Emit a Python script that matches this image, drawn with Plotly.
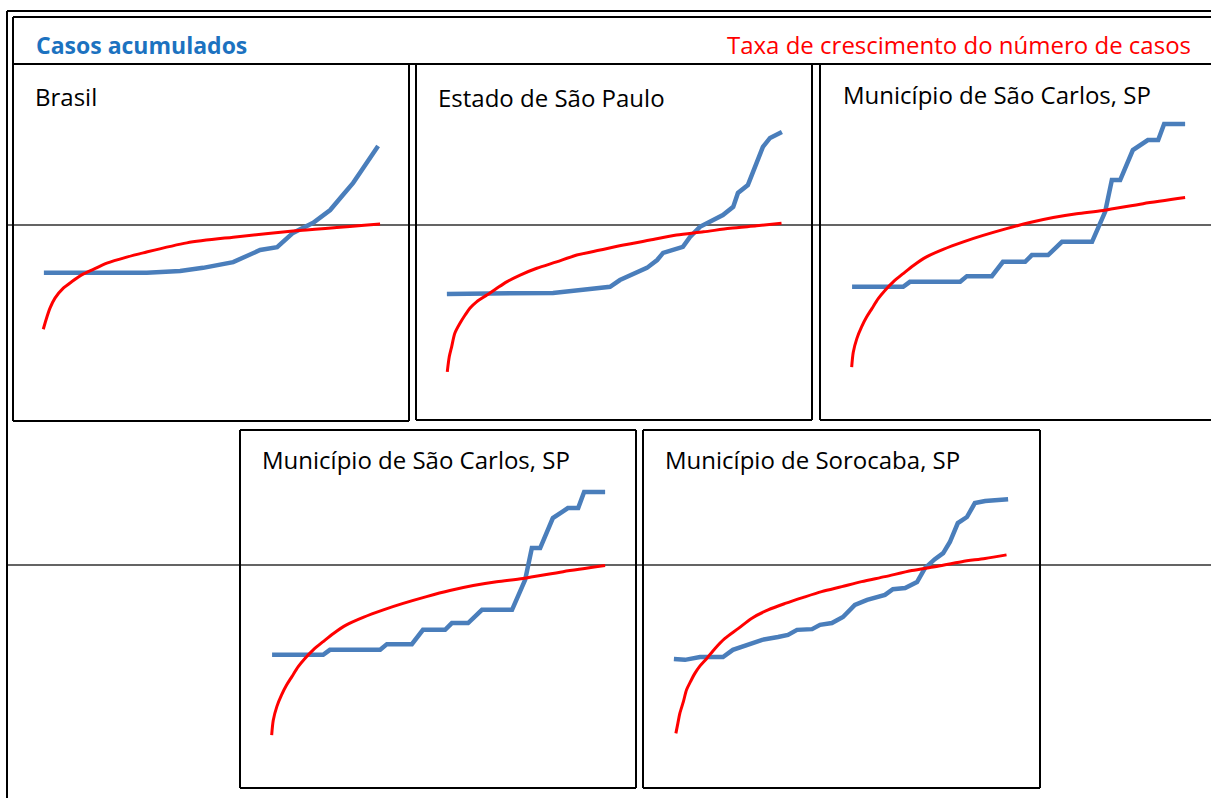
import plotly.graph_objects as go

W, H = 1211, 798

# ---------------- data (arbitrary units: x = time, y = level) ----------------
brasil_casos_x = [7.8, 33.8, 42.2, 48.0, 55.6, 62.4, 66.7, 70.7, 75.8, 80.1, 83.3, 85.9, 88.1, 90.2, 92.2]
brasil_casos_y = [41.5, 41.5, 42.0, 42.9, 44.5, 47.9, 48.7, 52.7, 55.5, 59.1, 63.3, 66.7, 70.3, 73.7, 77.0]
brasil_taxa_x = [7.65, 8.33, 9.34, 10.6, 12.7, 14.8, 17.8, 21.1, 23.7, 28.7, 32.9, 43.9, 55.6, 70.7, 92.7]
brasil_taxa_y = [25.7, 28.3, 31.6, 34.4, 37.2, 39.0, 41.2, 42.9, 44.2, 45.9, 47.1, 49.9, 51.5, 53.2, 55.2]

sp_casos_x = [7.8, 28.8, 34.6, 43.9, 49.0, 51.5, 55.8, 58.3, 60.9, 62.4, 67.4, 69.2, 71.7, 74.2,
              77.5, 80.1, 81.3, 83.8, 86.1, 87.6, 89.4, 92.4]
sp_casos_y = [35.3, 35.3, 35.6, 36.7, 37.3, 39.2, 41.5, 42.6, 44.8, 46.8, 48.5, 51.3, 54.1, 55.5,
              57.4, 59.7, 63.6, 65.8, 72.8, 76.5, 79.0, 80.7]
sp_taxa_x = [7.9, 8.4, 9.0, 9.8, 11.1, 12.4, 13.6, 15.3, 17.9, 20.4, 22.9, 26.3, 30.5, 35.5, 40.6,
             46.5, 52.4, 59.1, 65.8, 72.6, 79.3, 86.0, 92.3]
sp_taxa_y = [13.5, 17.7, 20.5, 24.3, 27.1, 29.4, 31.3, 33.1, 35.0, 36.9, 38.7, 40.6, 42.5, 44.3, 46.2,
             47.6, 49.0, 50.4, 51.8, 52.7, 53.7, 54.4, 55.1]

scarlos_casos_x = [8.1, 21.0, 22.7, 35.4, 37.1, 43.4, 46.2, 51.8, 53.5, 57.6, 61.1, 68.7, 72.0, 73.7,
                   75.8, 79.0, 82.8, 85.4, 86.9, 92.2]
scarlos_casos_y = [37.3, 37.3, 38.7, 38.7, 40.3, 40.3, 44.3, 44.3, 46.2, 46.2, 49.9, 49.9, 58.3, 67.2,
                   67.2, 75.6, 78.4, 78.4, 82.9, 82.9]
scarlos_taxa_x = [8.0, 8.4, 9.3, 10.5, 11.8, 13.1, 14.7, 16.4, 18.5, 21.0, 23.6, 26.9, 31.1, 36.2,
                  41.2, 47.1, 53.0, 58.9, 64.8, 71.5, 81.6, 92.2]
scarlos_taxa_y = [14.8, 19.0, 22.8, 26.1, 28.9, 31.2, 34.0, 36.3, 38.7, 41.0, 43.3, 45.7, 47.8, 49.9,
                  51.7, 53.6, 55.3, 56.7, 57.8, 58.7, 60.6, 62.3]

soro_casos_x = [7.8, 10.6, 14.4, 20.2, 22.7, 25.8, 30.1, 34.1, 36.6, 38.9, 42.7, 44.7, 47.7, 50.5, 53.5,
                56.6, 61.1, 63.1, 66.2, 69.2, 71.2, 73.7, 75.8, 77.5, 79.5, 81.8, 83.8, 86.4, 89.6, 92.2]
soro_casos_y = [36.1, 35.9, 36.7, 36.7, 38.7, 39.8, 41.5, 42.3, 42.9, 44.3, 44.5, 45.7, 46.2, 47.9, 51.3,
                52.7, 54.1, 55.7, 56.0, 57.7, 61.6, 64.1, 65.8, 68.9, 74.2, 75.9, 79.8, 80.4, 80.7, 80.9]
soro_taxa_x = [8.3, 8.8, 9.3, 10.2, 11.0, 12.0, 13.1, 14.4, 16.1, 18.2, 20.7, 24.1, 27.4, 31.6, 35.9,
               40.5, 45.1, 50.2, 55.2, 61.1, 67.9, 73.7, 80.5, 86.4, 91.8]
soro_taxa_y = [15.3, 18.1, 20.9, 24.2, 27.5, 29.8, 32.1, 34.2, 36.3, 39.1, 41.9, 44.7, 47.5, 49.9, 51.7,
               53.4, 55.0, 56.4, 57.8, 59.2, 60.9, 62.0, 63.4, 64.3, 65.3]

panel_titles = ["Brasil", "Estado de São Paulo", "Município de São Carlos, SP",
                "Município de São Carlos, SP", "Município de Sorocaba, SP"]
header_left = "Casos acumulados"
header_right = "Taxa de crescimento do número de casos"

series = [
    (brasil_casos_x, brasil_casos_y, brasil_taxa_x, brasil_taxa_y),
    (sp_casos_x, sp_casos_y, sp_taxa_x, sp_taxa_y),
    (scarlos_casos_x, scarlos_casos_y, scarlos_taxa_x, scarlos_taxa_y),
    (scarlos_casos_x, scarlos_casos_y, scarlos_taxa_x, scarlos_taxa_y),
    (soro_casos_x, soro_casos_y, soro_taxa_x, soro_taxa_y),
]

# ---------------- layout geometry (pixels) ----------------
# panel boxes: left, right, top, bottom
boxes = [(13, 409, 64, 421), (416, 812, 64, 420), (820, 1216, 64, 420),
         (240, 636, 430, 788), (643, 1040, 430, 788)]
title_pos = [(33, 97), (436, 98), (841, 94), (260, 459), (663, 459)]
UX, UY = 3.96, 3.57   # pixels per data unit

BLUE = "#4A7EBB"
RED = "#FF0000"

def px(x):
    return x / W

def py(y):
    return 1 - y / H

fig = go.Figure()
layout_axes = {}
for i, ((cx, cy, tx, ty), (L, R, T, B)) in enumerate(zip(series, boxes)):
    n = "" if i == 0 else str(i + 1)
    xa, ya = "x" + n, "y" + n
    Rc = min(R, W)
    layout_axes["xaxis" + n] = dict(domain=[px(L), px(Rc)], range=[0, (Rc - L) / UX],
                                    visible=False, fixedrange=True, anchor=ya)
    layout_axes["yaxis" + n] = dict(domain=[py(B), py(T)], range=[0, (B - T) / UY],
                                    visible=False, fixedrange=True, anchor=xa)
    fig.add_trace(go.Scatter(x=cx, y=cy, mode="lines", xaxis=xa, yaxis=ya,
                             line=dict(color=BLUE, width=4.5), hoverinfo="skip"))
    fig.add_trace(go.Scatter(x=tx, y=ty, mode="lines", xaxis=xa, yaxis=ya,
                             line=dict(color=RED, width=3, shape="spline", smoothing=0.8),
                             hoverinfo="skip"))

shapes = []

def seg(x0, y0, x1, y1, w=2, c="#000000", layer="above"):
    shapes.append(dict(type="line", xref="paper", yref="paper", x0=px(x0), y0=py(y0),
                       x1=px(x1), y1=py(y1), line=dict(color=c, width=w), layer=layer))

# outer double frame
seg(7, 11, 1215, 11)
seg(7, 11, 7, 805)
seg(13, 17, 1215, 17)
seg(13, 17, 13, 421)
seg(13, 64, 1215, 64)
# panel frames
for (L, R, T, B) in boxes:
    seg(L, T, R, T)
    seg(L, B, R, B)
    seg(L, T, L, B)
    seg(R, T, R, B)
# reference lines
seg(7, 225, 1215, 225, w=1.6, c="#303030", layer="below")
seg(7, 565, 1215, 565, w=1.6, c="#303030", layer="below")

FONT = "Open Sans"
ann = [
    dict(text=header_left, x=px(34), y=py(45), xanchor="left", yanchor="middle",
         font=dict(family=FONT, size=23, color="#1C72C0", weight="bold")),
    dict(text=header_right, x=px(1193), y=py(45), xanchor="right", yanchor="middle",
         font=dict(family=FONT, size=24, color=RED)),
]
for t, (x, y) in zip(panel_titles, title_pos):
    ann.append(dict(text=t, x=px(x), y=py(y), xanchor="left", yanchor="middle",
                    font=dict(family=FONT, size=24, color="#000000")))
for a in ann:
    a.update(xref="paper", yref="paper", showarrow=False)

fig.update_layout(width=W, height=H, margin=dict(l=0, r=0, t=0, b=0),
                  paper_bgcolor="white", plot_bgcolor="rgba(0,0,0,0)",
                  showlegend=False, shapes=shapes, annotations=ann, **layout_axes)

fig.write_html("out.html", config={"displayModeBar": False},
               post_script="document.body.style.margin='0';")
